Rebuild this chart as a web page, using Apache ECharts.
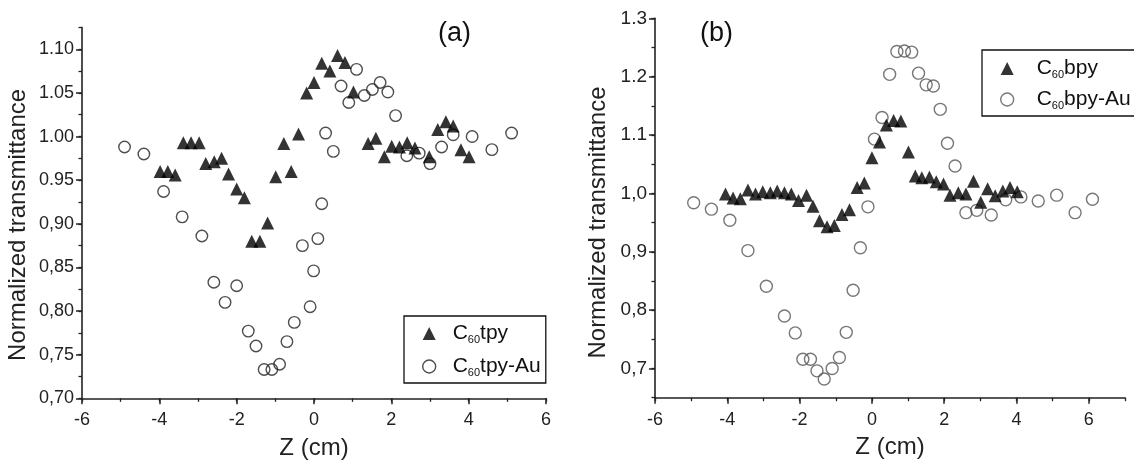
<!DOCTYPE html>
<html><head><meta charset="utf-8">
<script src="https://cdn.jsdelivr.net/npm/echarts@6/dist/echarts.min.js"></script>
<style>html,body{margin:0;padding:0;background:#fff}#c{width:1134px;height:471px}</style>
</head><body><div id="c"></div>
<script>
// ---- Data (a): C60tpy / C60tpy-Au ----
const tpyZ = [-3.98,-3.78,-3.59,-3.38,-3.18,-2.97,-2.80,-2.58,-2.39,-2.21,-2.00,-1.80,-1.61,-1.40,-1.20,-0.99,-0.78,-0.59,-0.40,-0.19,0.00,0.20,0.41,0.61,0.80,1.02,1.40,1.60,1.82,2.01,2.21,2.41,2.61,2.98,3.20,3.41,3.60,3.80,4.01];
const tpyT = [0.960,0.960,0.956,0.993,0.993,0.993,0.969,0.971,0.975,0.957,0.940,0.930,0.880,0.880,0.901,0.954,0.992,0.960,1.003,1.050,1.062,1.084,1.075,1.093,1.085,1.051,0.992,0.998,0.977,0.989,0.988,0.993,0.987,0.977,1.008,1.017,1.012,0.985,0.977];
const tpyAuZ = [-4.90,-4.40,-3.89,-3.41,-2.90,-2.59,-2.30,-2.00,-1.70,-1.50,-1.29,-1.09,-0.89,-0.70,-0.51,-0.30,-0.10,-0.01,0.10,0.20,0.30,0.50,0.70,0.90,1.10,1.30,1.51,1.71,1.91,2.11,2.40,2.72,3.00,3.30,3.60,4.09,4.60,5.11];
const tpyAuT = [0.988,0.980,0.937,0.908,0.886,0.833,0.810,0.829,0.777,0.760,0.733,0.733,0.739,0.765,0.787,0.875,0.805,0.846,0.883,0.923,1.004,0.983,1.058,1.039,1.077,1.047,1.054,1.062,1.051,1.024,0.978,0.981,0.969,0.988,1.002,1.000,0.985,1.004];
// ---- Data (b): C60bpy / C60bpy-Au ----
const bpyZ = [-4.05,-3.84,-3.64,-3.43,-3.22,-3.02,-2.81,-2.62,-2.42,-2.23,-2.03,-1.81,-1.63,-1.45,-1.24,-1.04,-0.83,-0.62,-0.41,-0.21,0.00,0.21,0.40,0.60,0.80,1.01,1.20,1.38,1.59,1.78,1.98,2.16,2.39,2.60,2.81,3.01,3.20,3.41,3.62,3.82,4.02];
const bpyT = [0.999,0.992,0.991,1.006,0.999,1.003,1.001,1.004,1.001,0.999,0.988,0.997,0.978,0.953,0.943,0.945,0.964,0.972,1.010,1.018,1.061,1.088,1.117,1.125,1.124,1.071,1.030,1.027,1.028,1.020,1.016,0.997,1.001,0.999,1.021,0.985,1.008,0.996,1.004,1.010,1.003];
const bpyAuZ = [-4.93,-4.44,-3.93,-3.43,-2.92,-2.42,-2.12,-1.91,-1.70,-1.52,-1.32,-1.10,-0.90,-0.71,-0.52,-0.32,-0.11,0.07,0.28,0.49,0.69,0.90,1.10,1.29,1.50,1.70,1.89,2.09,2.30,2.60,2.90,3.30,3.70,4.12,4.60,5.11,5.62,6.10];
const bpyAuT = [0.984,0.973,0.954,0.902,0.841,0.790,0.761,0.716,0.716,0.696,0.682,0.700,0.719,0.762,0.834,0.907,0.977,1.093,1.130,1.204,1.243,1.244,1.242,1.206,1.186,1.184,1.144,1.086,1.047,0.967,0.971,0.963,0.989,0.994,0.987,0.997,0.967,0.990];

// ---- Tick labels ----
const xTicks = [-6,-4,-2,0,2,4,6];
const xLabels = ['-6','-4','-2','0','2','4','6'];
const leftYTicks = [0.70,0.75,0.80,0.85,0.90,0.95,1.00,1.05,1.10];
const leftYLabels = ['0,70','0,75','0,80','0,85','0,90','0.95','1.00','1.05','1.10'];
const rightYTicks = [0.7,0.8,0.9,1.0,1.1,1.2,1.3];
const rightYLabels = ['0,7','0,8','0,9','1,0','1.1','1.2','1.3'];
const seriesNames = ['C60tpy','C60tpy-Au','C60bpy','C60bpy-Au'];
const xName = 'Z (cm)';
const yName = 'Normalized transmittance';

const FONT = 'Liberation Sans, Arial, sans-serif';
const INK = '#222';
const zip = (a, b) => a.map((v, i) => [v, b[i]]);
const lookup = (ticks, labels) => v => {
  let best = 0, d = Infinity;
  ticks.forEach((t, i) => { const e = Math.abs(t - v); if (e < d) { d = e; best = i; } });
  return d < 1e-6 ? labels[best] : '';
};

function mainAxis(dim, grid, min, max, interval, ticks, labels, nameOpt) {
  const o = {
    type: 'value', gridIndex: grid, min, max, interval,
    position: dim === 'x' ? 'bottom' : 'left',
    axisLine: { show: true, onZero: false, lineStyle: { color: INK, width: 1.6 } },
    axisTick: { show: true, length: 6, customValues: ticks, lineStyle: { color: INK, width: 1.5 } },
    axisLabel: { customValues: ticks, formatter: lookup(ticks, labels), fontSize: dim === 'x' ? 18 : nameOpt.lf,
      color: INK, fontFamily: FONT, margin: dim === 'x' ? 13 : 8 },
    splitLine: { show: false }
  };
  Object.assign(o, nameOpt.axis);
  return o;
}
function minorAxis(dim, grid, min, max, interval) {
  return {
    type: 'value', gridIndex: grid, min, max, interval,
    position: dim === 'x' ? 'bottom' : 'left',
    axisLine: { show: false, onZero: false },
    axisTick: { show: true, length: 3.5, lineStyle: { color: INK, width: 1.3 } },
    axisLabel: { show: false }, splitLine: { show: false }
  };
}

const xNameOpt = { name: xName, nameLocation: 'middle', nameGap: 38,
  nameTextStyle: { fontSize: 24, color: INK, fontFamily: FONT } };

const legendRich = (gap) => ({
  g: { width: gap },
  n: { fontSize: 21, lineHeight: 22, color: '#111', fontFamily: FONT },
  s: { fontSize: 11, lineHeight: 10, padding: [12, 0, 0, 0], color: '#111', fontFamily: FONT }
});
const legendFmt = name => '{g|}{n|C}{s|60}{n|' + name.slice(3) + '}';

const option = {
  animation: false,
  backgroundColor: '#fff',
  title: [
    { text: '(a)', left: 433, top: 15, textStyle: { fontSize: 27, fontWeight: 'normal', color: '#111', fontFamily: FONT } },
    { text: '(b)', left: 695, top: 15, textStyle: { fontSize: 27, fontWeight: 'normal', color: '#111', fontFamily: FONT } }
  ],
  grid: [
    { left: 82, top: 27.5, width: 464, height: 370.8 },
    { left: 655, top: 18.3, width: 470, height: 379.4 }
  ],
  xAxis: [
    mainAxis('x', 0, -6, 6, 2, xTicks, xLabels, { axis: xNameOpt }),
    minorAxis('x', 0, -6, 6, 1),
    mainAxis('x', 1, -6, 7, 1, xTicks, xLabels, { axis: xNameOpt }),
    minorAxis('x', 1, -6, 7, 1)
  ],
  yAxis: [
    mainAxis('y', 0, 0.70, 1.125, 0.025, leftYTicks, leftYLabels, { lf: 18, axis: {
      name: yName, nameLocation: 'middle', nameGap: 52,
      nameTextStyle: { fontSize: 24, color: INK, fontFamily: FONT, padding: [0, 24, 0, 0] } } }),
    minorAxis('y', 0, 0.70, 1.125, 0.025),
    mainAxis('y', 1, 0.65, 1.3, 0.05, rightYTicks, rightYLabels, { lf: 19, axis: {
      name: yName, nameLocation: 'middle', nameGap: 45,
      nameTextStyle: { fontSize: 24, color: INK, fontFamily: FONT, padding: [0, 29, 0, 0] } } }),
    minorAxis('y', 1, 0.65, 1.3, 0.05)
  ],
  legend: [
    { data: [
        { name: seriesNames[0], icon: 'triangle', itemStyle: { color: '#000' } },
        { name: seriesNames[1], icon: 'circle', itemStyle: { color: '#fff', borderColor: '#222', borderWidth: 1.4 } }
      ],
      orient: 'vertical', left: 404, top: 316, itemWidth: 13, itemHeight: 13, itemGap: 10,
      padding: [6, 5, 5, 18], borderColor: '#111', borderWidth: 1.3, backgroundColor: '#fff',
      selectedMode: false, formatter: legendFmt, textStyle: { rich: legendRich(12) } },
    { data: [
        { name: seriesNames[2], icon: 'triangle', itemStyle: { color: '#000' } },
        { name: seriesNames[3], icon: 'circle', itemStyle: { color: '#fff', borderColor: '#555', borderWidth: 1.4 } }
      ],
      orient: 'vertical', left: 982, top: 50, itemWidth: 13, itemHeight: 13, itemGap: 8,
      padding: [7, 5, 5, 18], borderColor: '#111', borderWidth: 1.3, backgroundColor: '#fff',
      selectedMode: false, formatter: legendFmt, textStyle: { rich: legendRich(18) } }
  ],
  series: [
    { type: 'scatter', name: seriesNames[1], xAxisIndex: 0, yAxisIndex: 0, symbol: 'circle', symbolSize: 11.5,
      itemStyle: { color: 'rgba(255,255,255,0)', borderColor: '#222', borderWidth: 1.4 }, emphasis: { disabled: true },
      data: zip(tpyAuZ, tpyAuT) },
    { type: 'scatter', name: seriesNames[0], xAxisIndex: 0, yAxisIndex: 0, symbol: 'triangle', symbolSize: 13,
      itemStyle: { color: '#000' }, emphasis: { disabled: true }, data: zip(tpyZ, tpyT) },
    { type: 'scatter', name: seriesNames[3], xAxisIndex: 2, yAxisIndex: 2, symbol: 'circle', symbolSize: 12,
      itemStyle: { color: 'rgba(255,255,255,0)', borderColor: '#555', borderWidth: 1.4 }, emphasis: { disabled: true },
      data: zip(bpyAuZ, bpyAuT) },
    { type: 'scatter', name: seriesNames[2], xAxisIndex: 2, yAxisIndex: 2, symbol: 'triangle', symbolSize: 13,
      itemStyle: { color: '#000' }, emphasis: { disabled: true }, data: zip(bpyZ, bpyT) }
  ]
};
echarts.init(document.getElementById('c'), null, { renderer: 'canvas' }).setOption(option);
</script></body></html>
